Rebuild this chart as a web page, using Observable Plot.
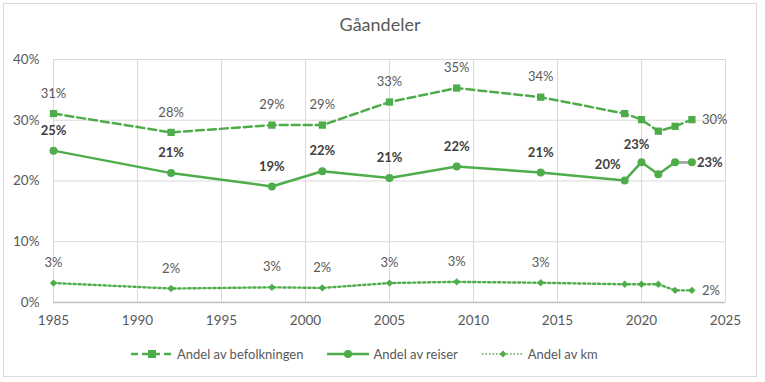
<!DOCTYPE html>
<html>
<head>
<meta charset="utf-8">
<script src="https://cdn.jsdelivr.net/npm/d3@7"></script>
<script src="https://cdn.jsdelivr.net/npm/@observablehq/plot@0.6"></script>
<style>
  html, body { margin: 0; padding: 0; background: #fff; }
  #wrap { position: relative; width: 765px; height: 382px; font-family: Lato, "Open Sans", sans-serif; overflow: hidden; }
  #frame { position: absolute; left: 3px; top: 3px; width: 754px; height: 374px; border: 1px solid #d9d9d9; box-sizing: border-box; }
  #title { position: absolute; top: 13px; left: 0; width: 760px; text-align: center; font-size: 18px; color: #595959; }
  #chart { position: absolute; left: 0; top: 0; }
  #legend { position: absolute; top: 346px; left: 131px; display: flex; align-items: center; font-size: 13px; color: #595959; }
  .item { display: flex; align-items: center; }
  .item svg { margin-right: 4px; }
</style>
</head>
<body>
<div id="wrap">
  <div id="frame"></div>
  <div id="chart"></div>
  <div id="title">Gåandeler</div>
  <div id="legend"></div>
</div>
<script>
const years = [1985, 1992, 1998, 2001, 2005, 2009, 2014, 2019, 2020, 2021, 2022, 2023];
const befolkning = [31.1, 28.0, 29.2, 29.2, 33.0, 35.3, 33.8, 31.1, 30.1, 28.2, 29.0, 30.1];
const reiser = [25.0, 21.3, 19.1, 21.6, 20.5, 22.4, 21.4, 20.1, 23.1, 21.1, 23.1, 23.1];
const km = [3.2, 2.3, 2.5, 2.4, 3.2, 3.4, 3.25, 3.0, 3.0, 3.0, 2.0, 2.0];
const befolkningLabels = ["31%", "28%", "29%", "29%", "33%", "35%", "34%", "", "", "", "", "30%"];
const reiserLabels = ["25%", "21%", "19%", "22%", "21%", "22%", "21%", "20%", "23%", "", "", "23%"];
const kmLabels = ["3%", "2%", "3%", "2%", "3%", "3%", "3%", "", "", "", "", "2%"];
const seriesNames = ["Andel av befolkningen", "Andel av reiser", "Andel av km"];
const xTicks = [1985, 1990, 1995, 2000, 2005, 2010, 2015, 2020, 2025];
const yTicks = [0, 10, 20, 30, 40];

const green = "#4EAD4A";
const labelGray = "#595959";
const boldGray = "#404040";

const data = years.map((year, i) => ({
  year,
  bef: befolkning[i], befL: befolkningLabels[i],
  rei: reiser[i], reiL: reiserLabels[i],
  km: km[i], kmL: kmLabels[i]
}));

const last = years[years.length - 1];
const normal = d => d.year < 2019;

const chart = Plot.plot({
  width: 765,
  height: 340,
  marginTop: 59,
  marginBottom: 38,
  marginLeft: 53,
  marginRight: 40,
  style: { fontFamily: "Lato, 'Open Sans', sans-serif", fontSize: "13px", color: labelGray, background: "transparent" },
  x: { domain: [1985, 2025], ticks: xTicks, tickFormat: d => String(d), tickSize: 0, tickPadding: 13, label: null },
  y: { domain: [0, 40], ticks: yTicks, tickFormat: d => d + "%", tickSize: 0, tickPadding: 14, label: null },
  marks: [
    Plot.gridX(xTicks, { stroke: "#d9d9d9", strokeOpacity: 1 }),
    Plot.gridY(yTicks, { stroke: "#d9d9d9", strokeOpacity: 1 }),
    Plot.ruleY([0], { stroke: "#bfbfbf", strokeWidth: 1.5 }),
    Plot.axisX({ ticks: xTicks, tickFormat: d => String(d), tickSize: 0, tickPadding: 13, fill: labelGray, fontSize: 13.5 }),
    Plot.axisY({ ticks: yTicks, tickFormat: d => d + "%", tickSize: 0, tickPadding: 14, fill: labelGray, fontSize: 13.5 }),
    // Lines
    Plot.line(data, { x: "year", y: "bef", stroke: green, strokeWidth: 2.5, strokeDasharray: "8,4" }),
    Plot.line(data, { x: "year", y: "rei", stroke: green, strokeWidth: 2.5 }),
    Plot.line(data.filter(d => d.year >= 2022), { x: "year", y: "rei", stroke: "#a6a6a6", strokeWidth: 2.5 }),
    Plot.line(data, { x: "year", y: "km", stroke: green, strokeWidth: 2.4, strokeDasharray: "2.2,2.8" }),
    // Markers
    Plot.dot(data, { x: "year", y: "bef", symbol: "square", fill: green, r: 4.1 }),
    Plot.dot(data, { x: "year", y: "rei", symbol: "circle", fill: green, r: 4 }),
    Plot.dot(data, { x: "year", y: "km", symbol: "diamond2", fill: green, r: 3.3 }),
    // Labels
    Plot.text(data.filter(d => d.befL && d.year !== last), { x: "year", y: "bef", text: "befL", dy: -20, fill: labelGray, fontSize: 13 }),
    Plot.text(data.filter(d => d.year === last), { x: "year", y: "bef", text: "befL", dx: 10, textAnchor: "start", fill: labelGray, fontSize: 13 }),
    Plot.text(data.filter(d => d.reiL && normal(d)), { x: "year", y: "rei", text: "reiL", dy: -20, fill: boldGray, fontWeight: "bold", fontSize: 13 }),
    Plot.text(data.filter(d => d.year === 2019), { x: "year", y: "rei", text: "reiL", dx: -17, dy: -16, fill: boldGray, fontWeight: "bold", fontSize: 13 }),
    Plot.text(data.filter(d => d.year === 2020), { x: "year", y: "rei", text: "reiL", dx: -5, dy: -17, fill: boldGray, fontWeight: "bold", fontSize: 13 }),
    Plot.text(data.filter(d => d.year === last), { x: "year", y: "rei", text: "reiL", dx: 5, dy: 1, textAnchor: "start", fill: boldGray, fontWeight: "bold", fontSize: 13 }),
    Plot.text(data.filter(d => d.kmL && d.year !== last), { x: "year", y: "km", text: "kmL", dy: -20, fill: labelGray, fontSize: 13 }),
    Plot.text(data.filter(d => d.year === last), { x: "year", y: "km", text: "kmL", dx: 10, textAnchor: "start", fill: labelGray, fontSize: 13 })
  ]
});
document.getElementById("chart").appendChild(chart);

// Legend
const legend = d3.select("#legend");
const swatches = [
  { dash: "7,4", shape: "square", width: 2.5 },
  { dash: null, shape: "circle", width: 2.5 },
  { dash: "1.5,2", shape: "diamond", width: 1.6 }
];
const gaps = [24, 24, 0];
seriesNames.forEach((name, i) => {
  const it = legend.append("div").attr("class", "item").style("margin-right", gaps[i] + "px");
  const s = it.append("svg").attr("width", 42).attr("height", 12);
  const sw = swatches[i];
  const ln = s.append("line").attr("x1", 0).attr("x2", 42).attr("y1", 6).attr("y2", 6)
    .attr("stroke", green).attr("stroke-width", sw.width);
  if (sw.dash) ln.attr("stroke-dasharray", sw.dash);
  if (sw.shape === "square") s.append("rect").attr("x", 17).attr("y", 2).attr("width", 8).attr("height", 8).attr("fill", green);
  if (sw.shape === "circle") s.append("circle").attr("cx", 21).attr("cy", 6).attr("r", 4).attr("fill", green);
  if (sw.shape === "diamond") s.append("path").attr("d", "M21,2.5L24.5,6L21,9.5L17.5,6Z").attr("fill", green);
  it.append("span").text(name);
});
</script>
</body>
</html>
